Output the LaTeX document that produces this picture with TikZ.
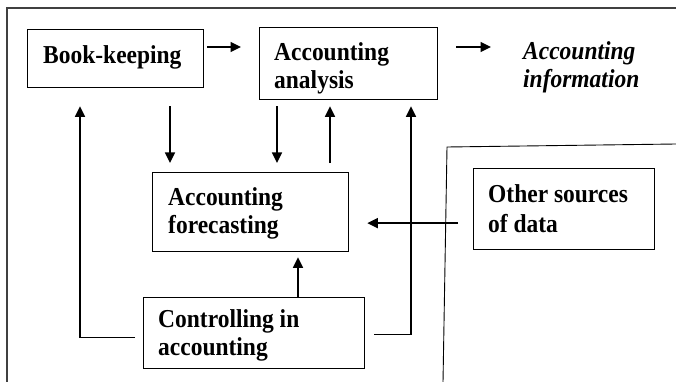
\documentclass[tikz,border=0pt]{standalone}
\usepackage{fontspec}
\setmainfont{Liberation Serif}[FakeStretch=0.91]
\usetikzlibrary{arrows.meta,calc}
% two lines of text, baseline on the first one
\newcommand\twoln[2]{\vtop{\hbox{#1}\hbox{#2}}}
\begin{document}
\begin{tikzpicture}[x=1pt,y=-1pt,
  lbl/.style={anchor=base west,inner sep=0pt,font=\fontsize{25.8}{28}\selectfont\bfseries},
  box/.style={draw,line width=1.3pt,anchor=north west,inner sep=0pt},
  arr/.style={line width=1.5pt,-{Triangle[length=10.5pt,width=10pt]}},
  frame/.style={line width=1.7pt,draw=black!75},
  thin/.style={line width=0.9pt}]
\useasboundingbox (0,0) rectangle (676,382);
% open outer frame
\draw[frame] (7,382) -- (7,8) -- (676,8);
% region of outside data
\draw[thin] (443,382) -- (447,147) -- (676,144);
% boxes
\node[box,minimum width=176pt,minimum height=58pt] (bk) at (27,29) {};
\node[box,minimum width=178pt,minimum height=72pt] (aa) at (259,27) {};
\node[box,minimum width=196pt,minimum height=79pt] (fc) at (152,172) {};
\node[box,minimum width=221pt,minimum height=71pt] (ctrl) at (143,297) {};
\node[box,minimum width=181pt,minimum height=81pt] (other) at (473,168) {};
% texts
\node[lbl] (bkt) at ($(bk.north west)+(16,35)$) {Book-keeping};
\node[lbl] (aat) at ($(aa.north west)+(15,34)$) {\twoln{Accounting}{analysis}};
\node[lbl] (fct) at ($(fc.north west)+(16,33)$) {\twoln{Accounting}{forecasting}};
\node[lbl] (ctrlt) at ($(ctrl.north west)+(15,30)$) {\twoln{Controlling in}{accounting}};
\node[lbl,font=\fontsize{25.8}{30}\selectfont\bfseries] (othert) at ($(other.north west)+(15,34)$) {\twoln{Other sources}{of data}};
\node[lbl,font=\fontsize{25.8}{28}\selectfont\bfseries\itshape] (info) at (523,60) {\twoln{Accounting}{information}};
% flows between the boxes
\draw[arr] ($(bk.north east)+(3,18)$) -- ($(aa.north west)+(-18,20)$);
\draw[arr] ($(aa.north east)+(18,20)$) -- ($(info.base west)+(-32,-13)$);
\draw[arr] ($(bk.south west)+(143,18)$) -- ($(fc.north west)+(18,-9)$);
\draw[arr] ($(aa.south west)+(18,6)$) -- ($(fc.north west)+(125,-9)$);
\draw[arr] ($(fc.north west)+(178,-9)$) -- ($(aa.south west)+(71,6)$);
\draw[arr] ($(ctrl.north west)+(155,0)$) -- ($(fc.south west)+(146,5)$);
\draw[arr] ($(other.west)+(-15,14)$) -- ($(fc.east)+(18,11)$);
\draw[arr] ($(ctrl.south west)+(-8,-32)$) -| ($(bk.south west)+(53,18)$);
\draw[arr] ($(ctrl.south east)+(9,-35)$) -| ($(aa.south west)+(152,6)$);
\end{tikzpicture}
\end{document}
